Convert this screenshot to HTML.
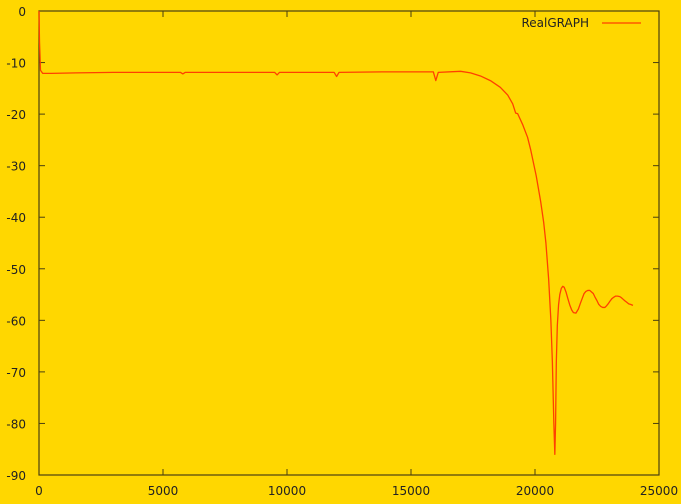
<!DOCTYPE html>
<html><head><meta charset="utf-8"><style>
html,body{margin:0;padding:0;background:#ffd700;}
svg{display:block;font-family:"DejaVu Sans","Liberation Sans",sans-serif;}
</style></head><body>
<svg id="chart" width="681" height="504" viewBox="0 0 681 504">
<rect x="0" y="0" width="681" height="504" fill="#ffd700"/>
<g id="axes"></g>
<path id="line" fill="none" stroke="#ff4000" stroke-width="1.3" stroke-linejoin="round"/>
<text x="589" y="27" font-size="12" text-anchor="end" fill="#222">RealGRAPH</text>
<line x1="602" y1="23" x2="641" y2="23" stroke="#ff4000" stroke-width="1.3"/>
</svg>
<script>
const xTicks=[0,5000,10000,15000,20000,25000];
const yTicks=[0,-10,-20,-30,-40,-50,-60,-70,-80,-90];
const seriesX=[0,20,60,150,500,1500,3000,5700,5800,5900,7000,8000,9500,9600,9700,11000,11900,12000,12100,14000,15900,16000,16100,17000,17400,17800,18200,18600,18900,19100,19220,19300,19500,19700,19830,20050,20230,20350,20440,20550,20640,20700,20760,20800,20830,20860,20900,20950,21000,21060,21120,21180,21250,21320,21400,21480,21550,21650,21750,21830,21900,21980,22050,22130,22210,22280,22350,22420,22500,22570,22650,22730,22820,22880,22950,23020,23100,23180,23250,23330,23420,23480,23550,23620,23700,23780,23850,23950];
const seriesY=[0,-6,-11.5,-12.1,-12.1,-12.0,-11.9,-11.9,-12.2,-11.9,-11.9,-11.9,-11.9,-12.4,-11.9,-11.9,-11.9,-12.7,-11.9,-11.8,-11.8,-13.5,-11.9,-11.7,-12.0,-12.6,-13.5,-14.8,-16.3,-18.0,-19.8,-19.9,-22.0,-24.5,-27.0,-32.0,-37.0,-41.0,-45.0,-52.0,-60.0,-68.0,-80.0,-86.0,-80.0,-68.0,-61.0,-57.0,-55.0,-53.8,-53.4,-53.6,-54.5,-55.7,-57.0,-58.0,-58.5,-58.6,-57.8,-56.7,-55.8,-54.8,-54.4,-54.2,-54.2,-54.5,-54.8,-55.5,-56.2,-56.9,-57.3,-57.5,-57.5,-57.2,-56.8,-56.3,-55.8,-55.5,-55.3,-55.3,-55.4,-55.6,-55.9,-56.2,-56.5,-56.8,-56.9,-57.1];
const L=39,R=659,T=11,B=475,xMin=0,xMax=25000,yMin=-90,yMax=0;
const sx=v=>L+(v-xMin)/(xMax-xMin)*(R-L);
const sy=v=>B-(v-yMin)/(yMax-yMin)*(B-T);
const NS="http://www.w3.org/2000/svg";
const ax=document.getElementById('axes');
function mk(tag,attrs,parent){const e=document.createElementNS(NS,tag);for(const k in attrs)e.setAttribute(k,attrs[k]);parent.appendChild(e);return e;}
const frame=mk('rect',{x:L,y:T,width:R-L,height:B-T,fill:'none',stroke:'#4a3f10','stroke-width':1.2},ax);


xTicks.forEach(v=>{
  const t=mk('line',{x1:sx(v),x2:sx(v),y1:B,y2:B-6,stroke:'#4a3f10','stroke-width':1},ax);
  
  
  const t2=mk('line',{x1:sx(v),x2:sx(v),y1:T,y2:T+6,stroke:'#4a3f10','stroke-width':1},ax);
  
  
  const lb=mk('text',{x:sx(v),y:495,'font-size':12,'text-anchor':'middle',fill:'#222'},ax);
  lb.textContent=v;
  
  
});
yTicks.forEach(v=>{
  const t=mk('line',{x1:L,x2:L+6,y1:sy(v),y2:sy(v),stroke:'#4a3f10','stroke-width':1},ax);
  
  
  const t2=mk('line',{x1:R,x2:R-6,y1:sy(v),y2:sy(v),stroke:'#4a3f10','stroke-width':1},ax);
  
  
  const lb=mk('text',{x:26,y:sy(v)+5,'font-size':12,'text-anchor':'end',fill:'#222'},ax);
  lb.textContent=v;
  
  
});
document.getElementById('line').setAttribute('d',seriesX.map((x,i)=>(i?'L':'M')+sx(x).toFixed(2)+','+sy(seriesY[i]).toFixed(2)).join(''));
</script>
</body></html>
